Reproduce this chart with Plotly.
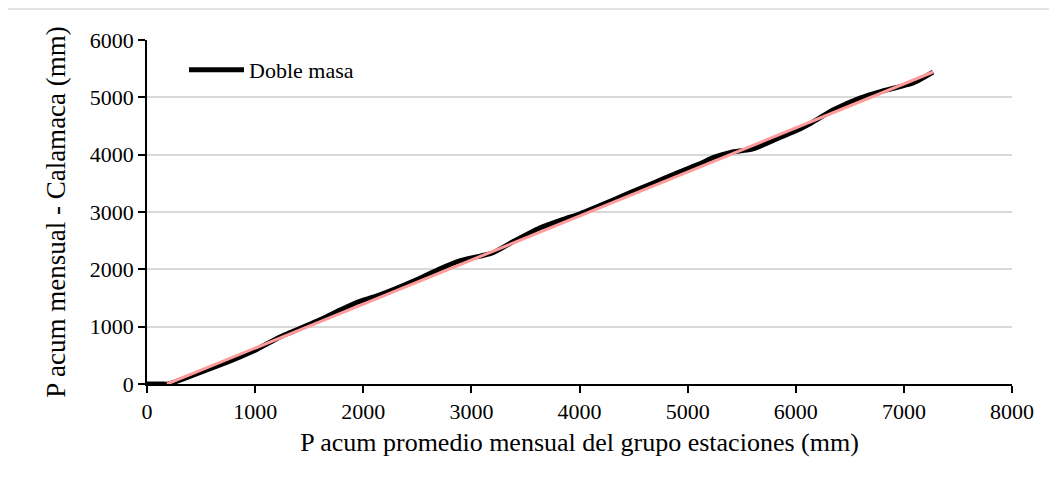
import plotly.graph_objects as go

# Double-mass curve (cumulative monthly precipitation)
p_grupo = [0, 60, 130, 200, 420, 675, 860, 1000, 1230, 1330, 1600, 1785, 1950, 2134,
           2509, 2700, 2900, 3080, 3200, 3385, 3632, 3850, 4006, 4200, 4443, 4700,
           4880, 5100, 5254, 5400, 5605, 5853, 6039, 6150, 6345, 6594, 6800, 7085, 7270]
p_calamaca = [0, 0, 0, 0, 150, 331, 471, 590, 820, 900, 1120, 1290, 1430, 1540,
              1830, 2000, 2150, 2230, 2290, 2480, 2720, 2870, 2970, 3120, 3316, 3520,
              3664, 3830, 3960, 4040, 4100, 4300, 4450, 4560, 4779, 4988, 5110, 5250, 5440]

# Linear trend line endpoints
trend_x = [185, 7270]
trend_y = [0, 5442]

x_ticks = [0, 1000, 2000, 3000, 4000, 5000, 6000, 7000, 8000]
y_ticks = [0, 1000, 2000, 3000, 4000, 5000, 6000]

FONT = "Liberation Serif"

fig = go.Figure()
fig.add_trace(go.Scatter(x=p_grupo, y=p_calamaca, mode="lines", name="Doble masa",
                         line=dict(color="black", width=5, shape="spline", smoothing=0.6)))
fig.add_trace(go.Scatter(x=trend_x, y=trend_y, mode="lines", name="Tendencia",
                         showlegend=False, line=dict(color="#ff9b9b", width=3)))

OFF = 8  # page body margin
W, H = 1057, 489
L, T = 147 - OFF, 40 - OFF
pw, ph = 865, 344
R, B = W - L - pw, H - T - ph

def px_x(px):
    return (px - OFF - L) / pw

def px_y(py):
    return (T + ph - (py - OFF)) / ph

fig.update_layout(
    width=W, height=H,
    margin=dict(l=L, r=R, t=T, b=B),
    paper_bgcolor="white", plot_bgcolor="white",
    font=dict(family=FONT, size=22, color="black"),
    legend=dict(x=px_x(184), y=px_y(70), xanchor="left", yanchor="middle",
                bgcolor="rgba(0,0,0,0)", font=dict(size=22, family=FONT), itemwidth=55,
                tracegroupgap=0),
    showlegend=True,
)
fig.update_xaxes(range=[0, 8000], tickvals=x_ticks, ticktext=[str(v) for v in x_ticks],
                 showgrid=False, zeroline=False, showline=True, linecolor="black", linewidth=1.5,
                 ticks="outside", ticklen=7, tickwidth=1.5, tickcolor="black",
                 tickfont=dict(size=22, family=FONT),
                 title=dict(text="P acum promedio mensual del grupo estaciones (mm)",
                            font=dict(size=26, family=FONT), standoff=10))
fig.update_yaxes(range=[0, 6000], tickvals=y_ticks, ticktext=[str(v) for v in y_ticks],
                 showgrid=True, gridcolor="#d9d9d9", gridwidth=1.5, zeroline=False,
                 showline=True, linecolor="black", linewidth=1.5,
                 ticks="outside", ticklen=7, tickwidth=1.5, tickcolor="black",
                 tickfont=dict(size=22, family=FONT),
                 title=dict(text="P acum mensual - Calamaca (mm)",
                            font=dict(size=27, family=FONT), standoff=16))

# chart-area border
fig.add_shape(type="rect", xref="paper", yref="paper",
              x0=px_x(5), x1=px_x(W + 20), y0=px_y(H + 20), y1=px_y(9),
              line=dict(color="#d9d9d9", width=1.5), fillcolor="rgba(0,0,0,0)", layer="below")

fig.write_html("out.html")
